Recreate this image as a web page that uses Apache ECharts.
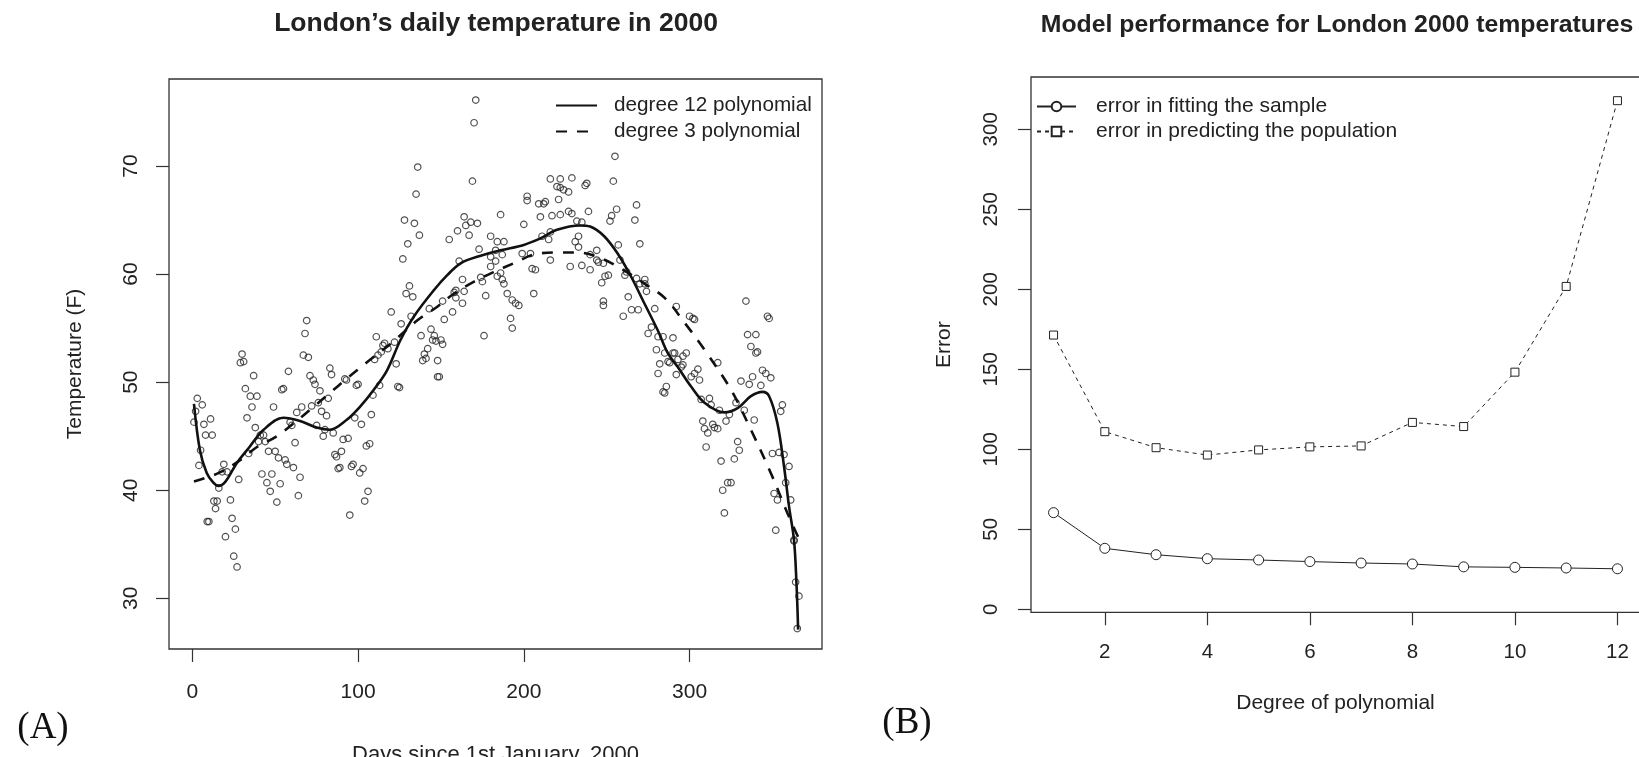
<!DOCTYPE html>
<html>
<head>
<meta charset="utf-8">
<script src="https://cdn.jsdelivr.net/npm/echarts@6/dist/echarts.min.js"></script>
<style>
html,body{margin:0;padding:0;background:#fff;}
#chart{width:1639px;height:757px;}
</style>
</head>
<body>
<div id="chart"></div>
<script>
// ---------- Panel A data: daily temperatures (day of year, temperature F) ----------
const tempDays = [1,2,3,4,5,6,7,8,9,10,11,12,13,14,15,16,18,19,20,21,23,24,25,26,27,28,29,30,31,32,33,34,35,36,37,38,39,40,41,42,43,44,45,46,47,48,49,50,51,52,53,54,55,56,57,58,59,60,61,62,63,64,65,66,67,68,69,70,71,72,73,74,75,76,77,78,79,80,81,82,83,84,85,86,87,88,89,90,91,92,93,94,95,96,97,98,99,100,101,102,103,104,105,106,107,108,109,110,111,112,113,114,115,116,118,120,122,123,124,125,126,127,128,129,130,131,132,133,134,135,136,137,138,139,140,141,142,143,144,145,146,147,148,148,149,150,151,151,152,155,157,158,159,159,160,161,163,163,164,164,165,167,168,169,170,171,172,173,174,175,176,177,180,180,180,183,183,184,184,186,186,187,187,188,188,190,192,193,193,195,197,199,200,202,202,204,205,206,207,209,210,211,212,213,215,216,216,216,217,220,221,222,222,222,224,227,227,228,229,229,231,232,233,233,235,235,237,238,239,240,240,244,244,245,247,248,248,248,249,251,252,253,254,255,256,257,258,260,261,262,263,265,267,268,268,269,270,270,273,273,274,275,277,279,280,281,281,282,284,284,285,285,286,287,288,290,290,291,292,292,293,295,296,296,298,300,301,302,303,303,305,306,307,308,309,310,311,312,313,314,315,317,317,318,319,320,321,322,323,324,325,327,328,329,330,331,333,334,335,336,337,338,339,340,340,341,343,344,346,347,348,349,350,351,352,353,354,355,356,357,358,360,361,363,363,364,365,366];
const tempValues = [46.3,47.3,48.5,42.3,43.7,47.9,46.1,45.1,37.1,37.1,46.6,45.1,39.0,38.3,39.0,40.2,41.7,42.4,35.7,41.7,39.1,37.4,33.9,36.4,32.9,41.0,51.8,52.6,51.9,49.4,46.7,43.4,48.7,47.7,50.6,45.8,48.7,44.5,45.1,41.5,45.1,44.5,40.7,43.6,39.9,41.5,47.7,43.6,38.9,43.0,40.6,49.3,49.4,42.8,42.4,51.0,46.3,46.0,42.1,44.4,47.2,39.5,41.2,47.7,52.5,54.5,55.7,52.3,50.6,47.8,50.2,49.8,46.0,48.1,49.2,47.3,45.0,45.6,46.9,48.5,51.3,50.7,45.3,43.3,43.1,42.0,42.1,43.6,44.7,50.3,50.2,44.8,37.7,42.2,42.4,46.7,49.7,49.8,41.6,46.1,42.0,39.0,44.1,39.9,44.3,47.0,48.8,52.1,54.2,52.5,49.7,52.8,53.4,53.6,53.1,56.5,53.7,51.7,49.6,49.5,55.4,61.4,65.0,58.2,62.8,58.9,56.1,57.9,64.7,67.4,69.9,63.6,54.3,52.0,52.6,52.2,53.1,56.8,54.9,53.9,54.3,53.8,52.0,50.5,50.5,53.9,53.5,57.5,55.8,63.2,56.5,58.3,58.5,57.8,64.0,61.2,59.5,57.3,65.3,58.4,64.5,63.6,64.8,68.6,74.0,76.1,64.7,62.3,59.7,59.3,54.3,58.0,63.5,61.6,60.7,62.2,61.2,63.0,59.8,65.5,60.1,61.8,59.5,63.0,59.1,58.2,55.9,57.6,55.0,57.3,57.1,61.9,64.6,67.2,66.8,61.9,60.5,58.2,60.4,66.5,65.3,63.5,66.5,66.7,63.2,68.8,63.9,61.3,65.4,68.1,66.9,68.8,68.0,65.5,67.8,67.6,65.8,60.7,68.9,65.6,63.0,64.9,63.5,62.5,64.8,60.8,68.2,68.4,65.8,61.8,60.4,61.3,62.2,61.1,59.2,61.0,57.1,57.5,59.8,59.9,64.9,65.4,68.6,70.9,66.0,62.7,61.3,56.1,59.9,60.2,57.9,56.7,65.0,66.4,59.6,56.7,62.8,59.1,59.1,59.5,58.4,54.5,55.1,56.8,53.0,54.2,50.8,51.7,54.2,49.1,52.7,49.0,49.6,51.9,51.8,54.1,52.7,52.7,57.0,50.7,52.1,51.4,52.4,51.6,52.7,56.1,50.5,55.9,55.8,50.8,51.2,50.2,48.4,46.4,45.7,44.0,45.3,48.5,47.9,46.1,45.8,51.8,45.7,47.4,42.7,40.0,37.9,46.4,40.7,47.0,40.7,42.9,48.1,44.5,43.7,50.1,47.4,57.5,54.4,49.8,53.3,50.5,46.5,54.4,52.7,52.8,49.7,51.1,50.8,56.1,55.9,50.4,43.4,39.7,36.3,39.1,43.5,47.3,47.9,43.3,40.7,42.2,39.1,35.4,35.3,31.5,27.2,30.2];

// degree 12 polynomial fit
const deg12Days  = [1,4.6,8.7,12.7,15.7,20,26.8,34.5,43,55,65,75,83,93,101,109.5,117.5,125.6,133.8,145.7,153.8,161.9,174,186,200,210,220,234,240,248.5,256.6,264.6,272.7,280.8,286.8,292.9,300.9,309,321,329,337,344,348,353,357,360,363,364.5,365.5];
const deg12Temps = [48.0,43.7,41.6,40.7,40.4,40.8,42.5,44.0,45.6,46.7,46.4,45.8,45.6,46.5,47.7,49.3,51.1,53.9,56.1,58.5,59.9,61.0,61.7,62.2,62.7,63.3,64.1,64.5,64.4,63.5,61.9,59.8,57.3,54.8,52.7,51.4,49.6,48.1,47.2,47.6,48.7,49.1,48.7,46.2,42.2,38.5,35.4,31.4,27.1];

// degree 3 polynomial fit
const deg3Days  = [1,16,29,39,51,62,73,83,93,105,120,136,148,158,170,182,194,206,220,232,246,260,273,285,297,309,325,337,349,359,366];
const deg3Temps = [40.8,41.6,42.8,44.0,45.0,46.3,47.7,49.0,50.3,51.8,53.6,55.75,57.0,58.2,59.3,60.2,61.0,61.8,62.0,62.0,61.5,60.4,59.1,57.8,55.5,53.0,49.3,45.6,41.6,37.9,35.5];

const xTicksA = [0,100,200,300];
const yTicksA = [30,40,50,60,70];

// ---------- Panel B data ----------
const degrees = [1,2,3,4,5,6,7,8,9,10,11,12];
const sampleError = [60.4,38.1,34.1,31.6,30.8,29.8,28.9,28.3,26.5,26.2,25.8,25.3];
const populationError = [171.4,111.0,101.0,96.4,99.6,101.5,102.1,116.8,114.2,148.2,201.8,317.9];
const xTicksB = [2,4,6,8,10,12];
const yTicksB = [0,50,100,150,200,250,300];

// ---------- chart ----------
const FONT = '"Liberation Sans", Arial, Helvetica, sans-serif';
const INK = '#222';
const FRAME = '#333';
const zip = (a, b) => a.map((v, i) => [v, b[i]]);

const chart = echarts.init(document.getElementById('chart'), null, {renderer: 'canvas'});

function axisCommon(ticks, margin, fontSize, rotate) {
  return {
    axisLine: {show: false, onZero: false},
    axisTick: {show: true, customValues: ticks, length: 13, inside: false, lineStyle: {color: FRAME, width: 1.2}},
    axisLabel: {customValues: ticks, margin: margin, fontSize: fontSize, color: INK, fontFamily: FONT, rotate: rotate || 0},
    splitLine: {show: false}
  };
}

const option = {
  animation: false,
  backgroundColor: '#fff',
  grid: [
    {left: 169, top: 79, width: 653, height: 570, show: true, borderColor: FRAME, borderWidth: 1.3, backgroundColor: 'transparent', outerBoundsMode: 'none', containLabel: false},
    {left: 1031, top: 77, width: 609, height: 535.3, show: true, borderColor: FRAME, borderWidth: 1.3, backgroundColor: 'transparent', outerBoundsMode: 'none', containLabel: false}
  ],
  xAxis: [
    Object.assign({type: 'value', gridIndex: 0, min: -14.06, max: 379.9,
      name: 'Days since 1st January, 2000', nameLocation: 'middle', nameGap: 95,
      nameTextStyle: {fontSize: 22, color: INK, fontFamily: FONT}}, axisCommon(xTicksA, 33, 21)),
    Object.assign({type: 'value', gridIndex: 1, min: 0.56, max: 12.44,
      name: 'Degree of polynomial', nameLocation: 'middle', nameGap: 80,
      nameTextStyle: {fontSize: 21, color: INK, fontFamily: FONT}}, axisCommon(xTicksB, 29.5, 20.5))
  ],
  yAxis: [
    Object.assign({type: 'value', gridIndex: 0, min: 25.31, max: 78.05,
      name: 'Temperature (F)', nameLocation: 'middle', nameGap: 83.5,
      nameTextStyle: {fontSize: 21, color: INK, fontFamily: FONT}}, axisCommon(yTicksA, 27.5, 21, 90)),
    Object.assign({type: 'value', gridIndex: 1, min: -1.9, max: 332.7,
      name: 'Error', nameLocation: 'middle', nameGap: 76.5,
      nameTextStyle: {fontSize: 21, color: INK, fontFamily: FONT}}, axisCommon(yTicksB, 29.5, 20.5, 90))
  ],
  legend: [
    {
      data: ['degree 12 polynomial', 'degree 3 polynomial'],
      orient: 'vertical', left: 550, top: 90, itemWidth: 41, itemHeight: 14, itemGap: 5,
      itemStyle: {opacity: 0},
      textStyle: {fontSize: 20.7, color: INK, fontFamily: FONT, padding: [0, 0, 0, 12]},
      selectedMode: false
    },
    {
      data: ['error in fitting the sample', 'error in predicting the population'],
      orient: 'vertical', left: 1031, top: 91, itemWidth: 39, itemHeight: 12, itemGap: 4,
      textStyle: {fontSize: 21, color: INK, fontFamily: FONT, padding: [0, 0, 0, 15]},
      selectedMode: false
    }
  ],
  series: [
    {
      type: 'scatter', name: 'observed', xAxisIndex: 0, yAxisIndex: 0,
      data: zip(tempDays, tempValues),
      symbol: 'circle', symbolSize: 6.5,
      itemStyle: {color: 'transparent', borderColor: '#262626', borderWidth: 1.2},
      silent: true
    },
    {
      type: 'line', name: 'degree 12 polynomial', xAxisIndex: 0, yAxisIndex: 0,
      data: zip(deg12Days, deg12Temps), smooth: 0.35, symbol: 'none',
      lineStyle: {color: '#111', width: 2.6},
      itemStyle: {color: '#111'}
    },
    {
      type: 'line', name: 'degree 3 polynomial', xAxisIndex: 0, yAxisIndex: 0,
      data: zip(deg3Days, deg3Temps), smooth: 0.35, symbol: 'none',
      lineStyle: {color: '#111', width: 2.6, type: [11, 10]},
      itemStyle: {color: '#111'}
    },
    {
      type: 'line', name: 'error in fitting the sample', xAxisIndex: 1, yAxisIndex: 1,
      data: zip(degrees, sampleError), symbol: 'circle', symbolSize: 10,
      lineStyle: {color: INK, width: 1},
      itemStyle: {color: '#fff', borderColor: INK, borderWidth: 1}
    },
    {
      type: 'line', name: 'error in predicting the population', xAxisIndex: 1, yAxisIndex: 1,
      data: zip(degrees, populationError), symbol: 'rect', symbolSize: 8,
      lineStyle: {color: INK, width: 1, type: [4, 4]},
      itemStyle: {color: '#fff', borderColor: INK, borderWidth: 1}
    }
  ],
  graphic: [
    {type: 'text', x: 496, y: 24, style: {text: 'London\u2019s daily temperature in 2000', font: 'bold 26.5px ' + FONT, fill: INK, textAlign: 'center', textVerticalAlign: 'middle'}},
    {type: 'text', x: 1337, y: 25, style: {text: 'Model performance for London 2000 temperatures', font: 'bold 24.8px ' + FONT, fill: INK, textAlign: 'center', textVerticalAlign: 'middle'}},
    {type: 'text', x: 43, y: 728, style: {text: '(A)', font: '37px "Liberation Serif", "Times New Roman", serif', fill: '#111', textAlign: 'center', textVerticalAlign: 'middle'}},
    {type: 'text', x: 907, y: 723, style: {text: '(B)', font: '37px "Liberation Serif", "Times New Roman", serif', fill: '#111', textAlign: 'center', textVerticalAlign: 'middle'}}
  ]
};
chart.setOption(option);
</script>
</body>
</html>
